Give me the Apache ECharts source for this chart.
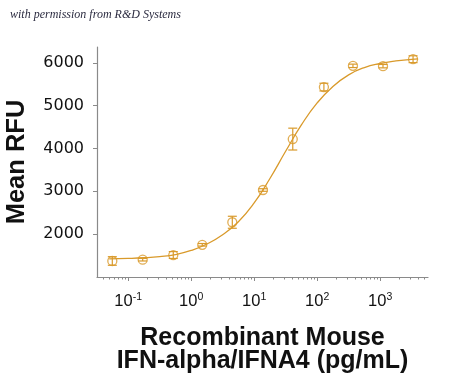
<!DOCTYPE html>
<html><head><meta charset="utf-8">
<script src="https://cdn.jsdelivr.net/npm/echarts@6/dist/echarts.min.js"></script>
<style>html,body{margin:0;padding:0;background:#fff}#c{width:450px;height:383px}</style>
</head><body><div id="c"></div>
<script>
// concentrations (pg/mL)
const conc = [0.056, 0.17, 0.52, 1.5, 4.5, 13.8, 41, 128, 370, 1110, 3330];
const meanRFU = [1374, 1404, 1513, 1752, 2278, 3031, 4220, 5434, 5930, 5923, 6085];
const errRFU = [100, 30, 80, 30, 140, 30, 255, 90, 40, 40, 80];
// fitted curve
const curveX = [0.05, 0.1, 0.178, 0.316, 0.562, 1, 1.78, 3.16, 5.62, 10, 17.8, 31.6, 56.2, 100, 178, 316, 562, 1000, 1780, 3160, 4000];
const curveY = [1422, 1433, 1449, 1477, 1525, 1620, 1770, 1985, 2290, 2730, 3300, 3935, 4550, 5065, 5450, 5720, 5890, 5985, 6045, 6082, 6092];
const xLabelVals = [0.1, 1, 10, 100, 1000];
const xLabelExp = ['-1', '0', '1', '2', '3'];
const yLabelVals = [2000, 3000, 4000, 5000, 6000];

const color = '#D99A2B';
const xMin = 0.032, xMax = 5750;
const minorTicks = [];
for (let e = -2; e <= 3; e++) for (let m = 2; m <= 9; m++) { const v = m * Math.pow(10, e); if (v > xMin && v < xMax) minorTicks.push(v); }

const chart = echarts.init(document.getElementById('c'), null, {renderer: 'canvas'});
chart.setOption({
  animation: false,
  backgroundColor: '#fff',
  graphic: [{type: 'text', left: 10, top: 9, style: {text: 'with permission from R&D Systems', font: 'italic 12px "Liberation Serif"', fill: '#2b2b40'}}],
  grid: {left: 97, right: 22, top: 47, bottom: 106, containLabel: false, outerBoundsMode: 'none'},
  xAxis: [{
    type: 'log', logBase: 10, min: xMin, max: xMax,
    axisLine: {lineStyle: {color: '#8a8a8a', width: 1.2}},
    splitLine: {show: false},
    axisTick: {show: true, length: 4, inside: false, customValues: xLabelVals, lineStyle: {color: '#8a8a8a'}},
    axisLabel: {
      customValues: xLabelVals, margin: 15,
      formatter: function (v) { const i = xLabelVals.findIndex(x => Math.abs(x - v) / x < 1e-6); return i < 0 ? '' : '{b|10}{s|' + xLabelExp[i] + '}'; },
      rich: {b: {fontSize: 16.5, fontFamily: 'Liberation Sans', color: '#111'}, s: {fontSize: 10.5, fontFamily: 'Liberation Sans', color: '#111', verticalAlign: 'top', padding: [0, 0, 8, 0]}}
    },
    name: 'Recombinant Mouse\nIFN-alpha/IFNA4 (pg/mL)', nameLocation: 'middle', nameGap: 49,
    nameTextStyle: {fontSize: 25, fontWeight: 'bold', fontFamily: 'Liberation Sans', color: '#111', lineHeight: 23.5}
  }, {
    type: 'log', logBase: 10, min: xMin, max: xMax, position: 'bottom',
    axisLine: {show: false}, splitLine: {show: false}, axisLabel: {show: false},
    axisTick: {show: true, length: 2.5, customValues: minorTicks, lineStyle: {color: '#8a8a8a'}}
  }],
  yAxis: {
    type: 'value', min: 1000, max: 6370,
    axisLine: {show: true, lineStyle: {color: '#8a8a8a', width: 1.2}},
    splitLine: {show: false},
    axisTick: {show: true, length: 4, customValues: yLabelVals, lineStyle: {color: '#8a8a8a'}},
    axisLabel: {customValues: yLabelVals, margin: 13, fontSize: 16, fontFamily: 'DejaVu Sans', color: '#111', formatter: v => String(v)},
    name: 'Mean RFU', nameLocation: 'middle', nameGap: 67, nameRotate: 90,
    nameTextStyle: {fontSize: 25.5, fontWeight: 'bold', fontFamily: 'Liberation Sans', color: '#111'}
  },
  series: [{
    type: 'line', xAxisIndex: 0, data: curveX.map((x, i) => [x, curveY[i]]), smooth: true, showSymbol: false,
    lineStyle: {color: color, width: 1.3}, z: 2
  }, {
    type: 'custom', xAxisIndex: 0, data: conc.map((x, i) => [x, meanRFU[i] - errRFU[i], meanRFU[i] + errRFU[i]]),
    renderItem: function (params, api) {
      const lo = api.coord([api.value(0), api.value(1)]);
      const hi = api.coord([api.value(0), api.value(2)]);
      const w = 4.5;
      const st = {stroke: color, lineWidth: 1.2, fill: null};
      return {type: 'group', children: [
        {type: 'line', shape: {x1: lo[0], y1: lo[1], x2: hi[0], y2: hi[1]}, style: st},
        {type: 'line', shape: {x1: lo[0] - w, y1: lo[1], x2: lo[0] + w, y2: lo[1]}, style: st},
        {type: 'line', shape: {x1: hi[0] - w, y1: hi[1], x2: hi[0] + w, y2: hi[1]}, style: st}
      ]};
    }, z: 3
  }, {
    type: 'scatter', xAxisIndex: 0, data: conc.map((x, i) => [x, meanRFU[i]]), symbol: 'circle', symbolSize: 9,
    itemStyle: {color: 'rgba(255,255,255,0)', borderColor: color, borderWidth: 1.3}, z: 4
  }]
});
</script></body></html>
